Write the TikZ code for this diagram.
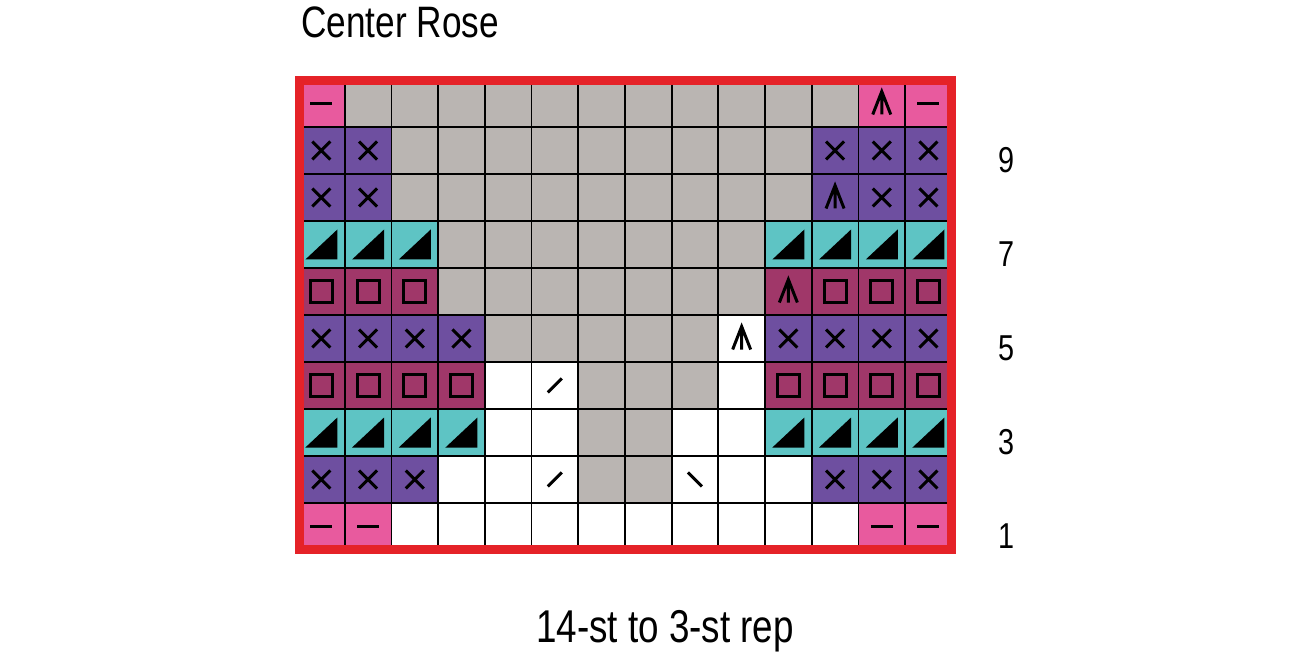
\documentclass[tikz,border=0pt]{standalone}
\usepackage{fontspec}
\setmainfont{Liberation Sans}[FakeStretch=0.8]
\usetikzlibrary{fit}
\definecolor{cgray}{HTML}{BAB5B2}
\definecolor{cpink}{HTML}{E85A9E}
\definecolor{cpurp}{HTML}{6E4FA0}
\definecolor{cteal}{HTML}{5EC4C4}
\definecolor{cmar}{HTML}{A03769}
\definecolor{cred}{HTML}{E52228}
\begin{document}
\begin{tikzpicture}[x=1pt,y=-1pt,
  cell/.style={draw=black,line width=1.8pt,minimum size=46.7pt,inner sep=0pt,outer sep=0pt},
  symx/.style={path picture={\draw[line width=3pt] ([shift={(-9,-9)}]path picture bounding box.center) -- ([shift={(9,9)}]path picture bounding box.center) ([shift={(-9,9)}]path picture bounding box.center) -- ([shift={(9,-9)}]path picture bounding box.center);}},
  symd/.style={path picture={\draw[line width=3pt] ([shift={(-11,0)}]path picture bounding box.center) -- ([shift={(11,0)}]path picture bounding box.center);}},
  symc/.style={path picture={\draw[line width=3pt] ([shift={(-9,11)}]path picture bounding box.center) -- ([shift={(0,-12)}]path picture bounding box.center) -- ([shift={(9,11)}]path picture bounding box.center) ([shift={(0,-12)}]path picture bounding box.center) -- ([shift={(0,11)}]path picture bounding box.center);}},
  symt/.style={path picture={\fill[black] ([shift={(-16,15)}]path picture bounding box.center) -- ([shift={(16,15)}]path picture bounding box.center) -- ([shift={(16,-15)}]path picture bounding box.center) -- cycle;}},
  syms/.style={path picture={\draw[line width=3pt] ([shift={(-11,-11)}]path picture bounding box.center) rectangle ([shift={(11,11)}]path picture bounding box.center);}},
  symsl/.style={path picture={\draw[line width=3pt] ([shift={(-7,7)}]path picture bounding box.center) -- ([shift={(7,-7)}]path picture bounding box.center);}},
  symbs/.style={path picture={\draw[line width=3pt] ([shift={(-7,-7)}]path picture bounding box.center) -- ([shift={(7,7)}]path picture bounding box.center);}},
  ckp/.style={cell,fill=cpink,symd},
  ckq/.style={cell,fill=cpink,symc},
  ckg/.style={cell,fill=cgray},
  ckx/.style={cell,fill=cpurp,symx},
  cky/.style={cell,fill=cpurp,symc},
  ckt/.style={cell,fill=cteal,symt},
  ckm/.style={cell,fill=cmar,syms},
  ckn/.style={cell,fill=cmar,symc},
  ckw/.style={cell,fill=white},
  cka/.style={cell,fill=white,symc},
  cks/.style={cell,fill=white,symsl},
  ckb/.style={cell,fill=white,symbs},
  lbl/.style={font=\fontsize{46}{50}\selectfont,inner sep=0pt}
]
\useasboundingbox (0,0) rectangle (1300,652);
\foreach \codes [count=\r] in {
 {p,g,g,g,g,g,g,g,g,g,g,g,q,p},
 {x,x,g,g,g,g,g,g,g,g,g,x,x,x},
 {x,x,g,g,g,g,g,g,g,g,g,y,x,x},
 {t,t,t,g,g,g,g,g,g,g,t,t,t,t},
 {m,m,m,g,g,g,g,g,g,g,n,m,m,m},
 {x,x,x,x,g,g,g,g,g,a,x,x,x,x},
 {m,m,m,m,w,s,g,g,g,w,m,m,m,m},
 {t,t,t,t,w,w,g,g,w,w,t,t,t,t},
 {x,x,x,w,w,s,g,g,b,w,w,x,x,x},
 {p,p,w,w,w,w,w,w,w,w,w,w,p,p}} {
  \foreach \c [count=\k] in \codes {
    \node[ck\c] (c\r-\k) at ({298+46.7*(\k-0.5)},{80+47*(\r-0.5)}) {};
  }
}
\node[draw=cred,line width=9pt,inner sep=0pt,fit={(299,81) (951,549)}] (frame) {};
\node[lbl,font=\fontsize{44}{48}\selectfont,anchor=base west] (title) at (301,38) {Center Rose};
\node[lbl,anchor=base] (rep) at (665,642) {14-st to 3-st rep};
\foreach \n/\r in {9/2,7/4,5/6,3/8,1/10}
  \node[font=\fontsize{36}{40}\selectfont,inner sep=0pt] (r\n) at (1006,{90+47*(\r-0.5)}) {\n};
\end{tikzpicture}
\end{document}
